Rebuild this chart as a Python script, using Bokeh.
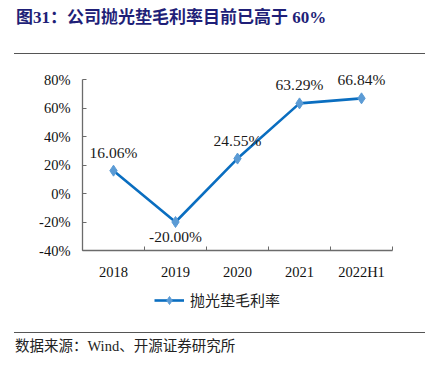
from bokeh.plotting import figure
from bokeh.models import (Div, FixedTicker, PrintfTickFormatter, Legend, LegendItem,
                          ColumnDataSource, Range1d)
from bokeh.layouts import column
from bokeh.embed import file_html
from bokeh.resources import INLINE
from bokeh.core.properties import value

categories = ["2018", "2019", "2020", "2021", "2022H1"]
margin_pct = [16.06, -20.00, 24.55, 63.29, 66.84]
label_text = ["16.06%", "-20.00%", "24.55%", "63.29%", "66.84%"]
label_side = ["above", "below", "above", "above", "above"]
y_ticks = [-40, -20, 0, 20, 40, 60, 80]
series_name = "抛光垫毛利率"

LINE_COLOR = "#0A6EC0"
MARK_COLOR = "#5B9BD5"

title_html = ('<div style="width:420px;height:46px;box-sizing:border-box;position:relative;">'
              '<div style="position:absolute;left:8px;top:0px;font-family:\'Liberation Serif\',\'Noto Sans CJK SC\';'
              'font-weight:bold;font-size:17px;color:#1F1F78;line-height:20px;">'
              '图31：公司抛光垫毛利率目前已高于 60%</div>'
              '<div style="position:absolute;left:6px;width:411px;top:44.5px;height:0;border-top:1.5px solid #555;"></div>'
              '</div>')
title_div = Div(text=title_html, width=420, height=47, margin=(0, 0, 0, 0))

x = list(range(len(categories)))
src = ColumnDataSource(dict(x=x, y=margin_pct, label=label_text))

p = figure(width=420, height=227, output_backend="svg", toolbar_location=None,
           x_range=Range1d(-0.5, len(categories) - 0.5), y_range=Range1d(-40, 92),
           min_border_left=74, min_border_right=36, min_border_top=7, min_border_bottom=32,
           margin=(0, 0, 0, 0))
p.outline_line_color = None
p.xgrid.visible = False
p.ygrid.visible = False
p.background_fill_color = "white"
p.border_fill_color = "white"

axis_col = "#6b6b6b"
p.yaxis.ticker = FixedTicker(ticks=y_ticks)
p.yaxis.formatter = PrintfTickFormatter(format="%d%%")
p.yaxis.bounds = (y_ticks[0], y_ticks[-1])
p.xaxis.ticker = FixedTicker(ticks=x, minor_ticks=[i - 0.5 for i in range(len(categories) + 1)])
p.xaxis.major_label_overrides = {i: c for i, c in enumerate(categories)}
for ax in (p.xaxis, p.yaxis):
    ax.axis_line_color = axis_col
    ax.axis_line_width = 1.3
    ax.major_label_text_font = "Liberation Serif"
    ax.major_label_text_font_size = "14.5px"
    ax.major_label_text_color = "#111111"
p.yaxis.major_tick_in = 4
p.yaxis.major_tick_out = 0
p.yaxis.major_tick_line_color = axis_col
p.yaxis.minor_tick_line_color = None
p.yaxis.major_label_standoff = 12
p.xaxis.major_tick_line_color = None
p.xaxis.minor_tick_in = 4
p.xaxis.minor_tick_out = 0
p.xaxis.minor_tick_line_color = axis_col
p.xaxis.major_label_standoff = 7

p.line("x", "y", source=src, line_color=LINE_COLOR, line_width=2.6)
p.scatter("x", "y", source=src, marker="diamond", size=11,
          fill_color=MARK_COLOR, line_color=MARK_COLOR)

above = ColumnDataSource(dict(x=[x[i] for i in range(len(x)) if label_side[i] == "above"],
                              y=[margin_pct[i] for i in range(len(x)) if label_side[i] == "above"],
                              t=[label_text[i] for i in range(len(x)) if label_side[i] == "above"]))
below = ColumnDataSource(dict(x=[x[i] for i in range(len(x)) if label_side[i] == "below"],
                              y=[margin_pct[i] for i in range(len(x)) if label_side[i] == "below"],
                              t=[label_text[i] for i in range(len(x)) if label_side[i] == "below"]))
p.text("x", "y", text="t", source=above, text_align="center", text_baseline="bottom",
       y_offset=-10, text_font=value("Liberation Serif"), text_font_size="15.5px", text_color="#1a1a1a")
p.text("x", "y", text="t", source=below, text_align="center", text_baseline="top",
       y_offset=6, text_font=value("Liberation Serif"), text_font_size="15.5px", text_color="#1a1a1a")

# legend strip: same series drawn in a strip whose ranges keep the marks out of view
lg = figure(width=420, height=50, output_backend="svg", toolbar_location=None,
            x_range=Range1d(100, 101), y_range=Range1d(1000, 1001),
            min_border=0, margin=(0, 0, 0, 0))
lg.axis.visible = False
lg.grid.visible = False
lg.outline_line_color = None
lg_line = lg.line("x", "y", source=src, line_color=LINE_COLOR, line_width=2.6)
lg_mark = lg.scatter("x", "y", source=src, marker="diamond", size=10,
                     fill_color=MARK_COLOR, line_color=MARK_COLOR)
legend = Legend(items=[LegendItem(label=series_name, renderers=[lg_line, lg_mark])],
                orientation="horizontal", location=(72, 22),
                label_text_font="Noto Sans CJK SC", label_text_font_size="15px",
                label_text_color="#222222", glyph_width=30, border_line_color=None,
                background_fill_alpha=0, margin=0, padding=4, spacing=0, label_standoff=6)
lg.add_layout(legend)

source_html = ('<div style="width:420px;height:27px;box-sizing:border-box;position:relative;">'
               '<div style="position:absolute;left:6px;width:411px;top:0px;height:0;border-top:1.5px solid #555;"></div>'
               '<div style="position:absolute;left:7px;top:6px;font-family:\'Liberation Serif\',\'Noto Sans CJK SC\';'
               'font-size:14.5px;color:#222;line-height:16px;">数据来源：Wind、开源证券研究所</div>'
               '</div>')
source_div = Div(text=source_html, width=420, height=27, margin=(0, 0, 0, 0))

layout = column(title_div, p, lg, source_div, spacing=0, margin=(8, 8, 8, 8))
open("out.html", "w").write(file_html(layout, INLINE))
